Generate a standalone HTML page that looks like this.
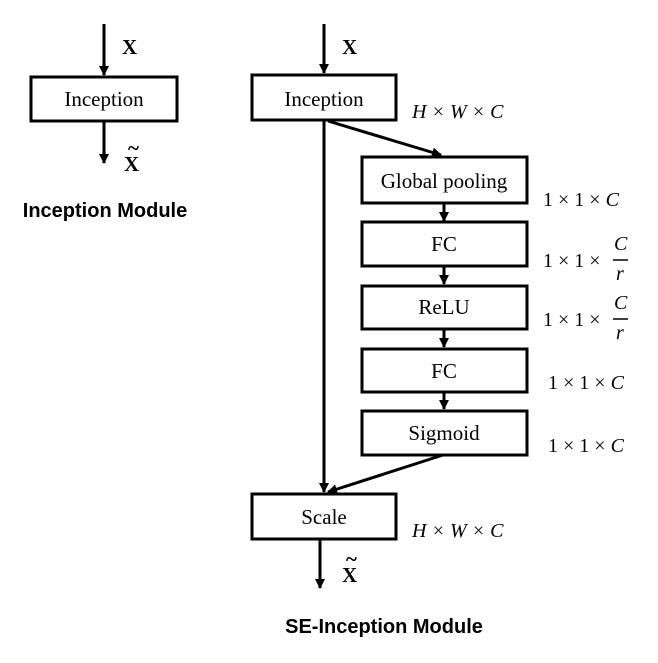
<!DOCTYPE html>
<html><head><style>
body{margin:0;background:#fff;}
svg{display:block}
.t{font-family:"Liberation Serif",serif;font-size:21px;fill:#000}
.m{font-family:"Liberation Serif",serif;font-size:20px;fill:#000}
.i{font-style:italic}
.b{font-family:"Liberation Sans",sans-serif;font-weight:bold;font-size:20px}
</style></head><body>
<svg width="658" height="663" viewBox="0 0 658 663" xmlns="http://www.w3.org/2000/svg">
<defs><marker id="a" markerWidth="10" markerHeight="10" refX="9" refY="5" orient="auto" markerUnits="userSpaceOnUse"><path d="M0,0 L10,5 L0,10 z"/></marker></defs>
<g stroke="#000" stroke-width="3" fill="none">
<line x1="104" y1="24" x2="104" y2="75" marker-end="url(#a)"/>
<rect x="31" y="77" width="146" height="44"/>
<line x1="104" y1="121" x2="104" y2="163" marker-end="url(#a)"/>
<line x1="324" y1="24" x2="324" y2="73" marker-end="url(#a)"/>
<rect x="252" y="75" width="144" height="45"/>
<line x1="324" y1="120" x2="324" y2="492" marker-end="url(#a)"/>
<line x1="328" y1="121" x2="441" y2="155" marker-end="url(#a)"/>
<rect x="362" y="157" width="165" height="46"/>
<line x1="444" y1="203" x2="444" y2="221" marker-end="url(#a)"/>
<rect x="362" y="222" width="165" height="44"/>
<line x1="444" y1="266" x2="444" y2="284" marker-end="url(#a)"/>
<rect x="362" y="286" width="165" height="43"/>
<line x1="444" y1="329" x2="444" y2="347" marker-end="url(#a)"/>
<rect x="362" y="349" width="165" height="43"/>
<line x1="444" y1="392" x2="444" y2="409" marker-end="url(#a)"/>
<rect x="362" y="411" width="165" height="44"/>
<line x1="443" y1="455" x2="328" y2="492" marker-end="url(#a)"/>
<rect x="252" y="494" width="144" height="45"/>
<line x1="320" y1="539" x2="320" y2="588" marker-end="url(#a)"/>
</g>
<text class="t" x="122" y="54" font-weight="bold" font-size="25">X</text>
<text class="t" x="104" y="106" text-anchor="middle">Inception</text>
<text class="t" x="124" y="171" font-weight="bold" font-size="25">X</text>
<text class="t" x="128" y="155" font-weight="bold" font-size="20">~</text>
<text class="b" x="105" y="217" text-anchor="middle">Inception Module</text>

<text class="t" x="342" y="54" font-weight="bold" font-size="25">X</text>
<text class="t" x="324" y="106" text-anchor="middle">Inception</text>
<text class="m i" x="412" y="118">H × W × C</text>
<text class="t" x="444" y="188" text-anchor="middle">Global pooling</text>
<text class="m" x="543" y="206">1 × 1 × <tspan class="i">C</tspan></text>
<text class="m" x="543" y="267">1 × 1 ×</text>
<text class="m i" x="614" y="250">C</text><line x1="613" y1="260" x2="628" y2="260" stroke="#000" stroke-width="1.5"/><text class="m i" x="616" y="280">r</text>
<text class="t" x="444" y="251" text-anchor="middle">FC</text>
<text class="t" x="444" y="314" text-anchor="middle">ReLU</text>
<text class="m" x="543" y="326">1 × 1 ×</text>
<text class="m i" x="614" y="309">C</text><line x1="613" y1="319" x2="628" y2="319" stroke="#000" stroke-width="1.5"/><text class="m i" x="616" y="339">r</text>
<text class="t" x="444" y="378" text-anchor="middle">FC</text>
<text class="m" x="548" y="389">1 × 1 × <tspan class="i">C</tspan></text>
<text class="t" x="444" y="440" text-anchor="middle">Sigmoid</text>
<text class="m" x="548" y="452">1 × 1 × <tspan class="i">C</tspan></text>
<text class="t" x="324" y="524" text-anchor="middle">Scale</text>
<text class="m i" x="412" y="537">H × W × C</text>
<text class="t" x="342" y="582" font-weight="bold" font-size="25">X</text>
<text class="t" x="346" y="566" font-weight="bold" font-size="20">~</text>
<text class="b" x="384" y="633" text-anchor="middle">SE-Inception Module</text>
</svg>
</body></html>
